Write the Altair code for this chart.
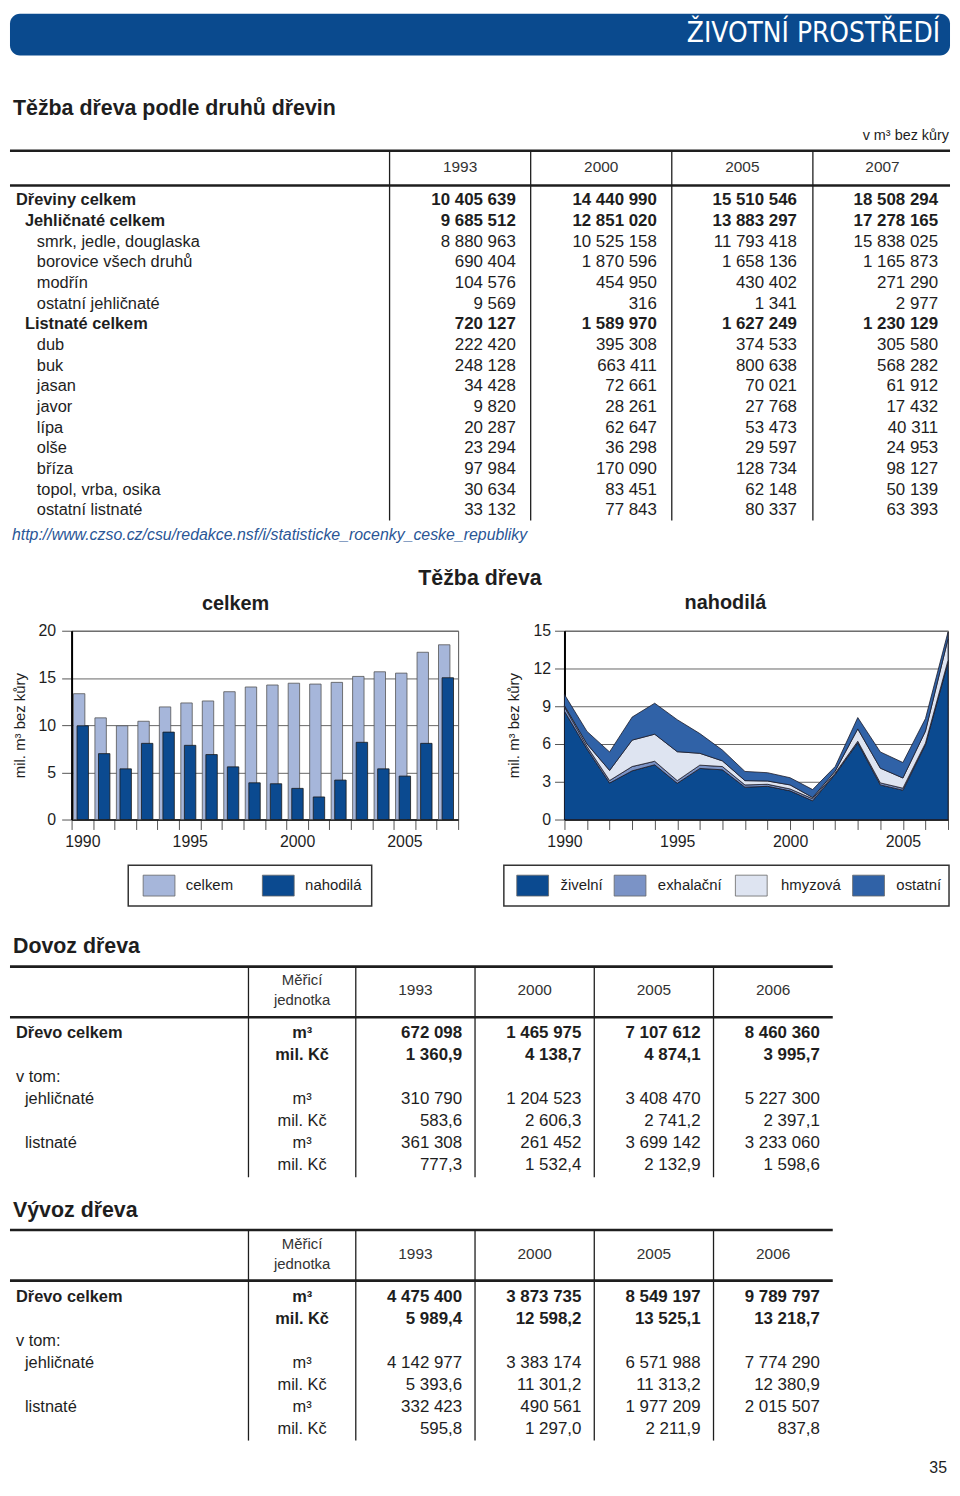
import altair as alt
import pandas as pd

# ---------------------------------------------------------------- data
roky = list(range(1990, 2008))
tezba_celkem = [13.33, 10.77, 9.93, 10.41, 11.93, 12.35, 12.56, 13.54, 14.04, 14.25,
                14.44, 14.35, 14.53, 15.16, 15.65, 15.51, 17.72, 18.51]
tezba_nahodila = [9.93, 6.98, 5.37, 8.07, 9.26, 7.86, 6.88, 5.58, 3.89, 3.79,
                  3.30, 2.39, 4.18, 8.18, 5.37, 4.60, 8.07, 15.02]
zivelni = [8.60, 5.60, 2.90, 3.87, 4.35, 2.88, 4.06, 3.95, 2.57, 2.64,
           2.28, 1.49, 3.59, 6.10, 2.75, 2.33, 5.95, 12.50]
exhalacni = [0.35, 0.20, 0.20, 0.34, 0.28, 0.21, 0.26, 0.26, 0.18, 0.16,
             0.15, 0.16, 0.10, 0.12, 0.16, 0.16, 0.12, 0.15]
hmyzova = [0.10, 0.20, 0.80, 2.10, 2.15, 2.30, 0.94, 0.45, 0.34, 0.26,
           0.32, 0.10, 0.16, 0.98, 1.17, 0.81, 0.95, 1.70]
ostatni = [0.88, 1.00, 1.47, 1.83, 2.46, 2.54, 1.57, 0.86, 0.73, 0.66,
           0.57, 0.63, 0.36, 0.90, 1.29, 1.23, 1.00, 0.55]
druhy_kalamit = ["živelní", "exhalační", "hmyzová", "ostatní"]
serie_tezby = ["celkem", "nahodilá"]

t1_roky = ["1993", "2000", "2005", "2007"]
t1_dreviny = ["Dřeviny celkem", "Jehličnaté celkem", "smrk, jedle, douglaska",
              "borovice všech druhů", "modřín", "ostatní jehličnaté", "Listnaté celkem",
              "dub", "buk", "jasan", "javor", "lípa", "olše", "bříza",
              "topol, vrba, osika", "ostatní listnaté"]
t1_uroven = [0, 1, 2, 2, 2, 2, 1, 2, 2, 2, 2, 2, 2, 2, 2, 2]
t1_tucne = [True, True, False, False, False, False, True] + [False] * 9
t1_1993 = [10405639, 9685512, 8880963, 690404, 104576, 9569, 720127, 222420, 248128,
           34428, 9820, 20287, 23294, 97984, 30634, 33132]
t1_2000 = [14440990, 12851020, 10525158, 1870596, 454950, 316, 1589970, 395308, 663411,
           72661, 28261, 62647, 36298, 170090, 83451, 77843]
t1_2005 = [15510546, 13883297, 11793418, 1658136, 430402, 1341, 1627249, 374533, 800638,
           70021, 27768, 53473, 29597, 128734, 62148, 80337]
t1_2007 = [18508294, 17278165, 15838025, 1165873, 271290, 2977, 1230129, 305580, 568282,
           61912, 17432, 40311, 24953, 98127, 50139, 63393]

t2_roky = ["1993", "2000", "2005", "2006"]
dovoz_celkem_m3 = [672098, 1465975, 7107612, 8460360]
dovoz_celkem_kc = [1360.9, 4138.7, 4874.1, 3995.7]
dovoz_jehl_m3 = [310790, 1204523, 3408470, 5227300]
dovoz_jehl_kc = [583.6, 2606.3, 2741.2, 2397.1]
dovoz_list_m3 = [361308, 261452, 3699142, 3233060]
dovoz_list_kc = [777.3, 1532.4, 2132.9, 1598.6]

vyvoz_celkem_m3 = [4475400, 3873735, 8549197, 9789797]
vyvoz_celkem_kc = [5989.4, 12598.2, 13525.1, 13218.7]
vyvoz_jehl_m3 = [4142977, 3383174, 6571988, 7774290]
vyvoz_jehl_kc = [5393.6, 11301.2, 11313.2, 12380.9]
vyvoz_list_m3 = [332423, 490561, 1977209, 2015507]
vyvoz_list_kc = [595.8, 1297.0, 2211.9, 837.8]

# ---------------------------------------------------------------- style
FONT = "Liberation Sans, Arial, Helvetica, sans-serif"
NARROW = "Liberation Sans Narrow, Arial Narrow, DejaVu Sans Condensed, sans-serif"
INK = "#1e1e1e"
HDR_BLUE = "#0a4a8e"
URL_BLUE = "#2a5696"
C_CELKEM = "#a6b6da"
C_NAHOD = "#0b4a90"
C_ZIV = "#0b4a90"
C_EXH = "#7b93c6"
C_HMY = "#dee4f1"
C_OST = "#3062a7"
KAL_COLORS = [C_ZIV, C_EXH, C_HMY, C_OST]
TEZ_COLORS = [C_CELKEM, C_NAHOD]

LEFT = 8
W = 946
RIGHT = LEFT + W
A_TOP, A_H = 8, 611
B_H = 190
C_TOP, C_H = 847, 630


def fint(v):
    return f"{v:,}".replace(",", " ")


def fdec(v):
    return f"{v:,.1f}".replace(",", " ").replace(".", ",")


def scales(top, h):
    xs = alt.Scale(domain=[LEFT, LEFT + W], nice=False, zero=False)
    ys = alt.Scale(domain=[top, top + h], nice=False, zero=False, reverse=True)
    return xs, ys


def text_layers(items, xs, ys):
    df = pd.DataFrame(items)
    keys = ["size", "weight", "align", "color", "font", "style"]
    out = []
    for k, g in df.groupby(keys):
        size, weight, align, color, font, style = k
        out.append(
            alt.Chart(g[["x", "y", "t"]]).mark_text(
                align=align, baseline="middle", fontSize=size, fontWeight=weight,
                color=color, font=font, fontStyle=style
            ).encode(
                x=alt.X("x:Q", scale=xs, axis=None),
                y=alt.Y("y:Q", scale=ys, axis=None),
                text="t:N",
            )
        )
    return out


def T(x, y, t, size=16.5, weight="normal", align="left", color=INK, font=FONT, style="normal"):
    return dict(x=x, y=y, t=t, size=size, weight=weight, align=align, color=color,
                font=font, style=style)


def rule_layer(rows, xs, ys, width, color=INK):
    df = pd.DataFrame(rows, columns=["x", "x2", "y", "y2"])
    return alt.Chart(df).mark_rule(strokeWidth=width, color=color).encode(
        x=alt.X("x:Q", scale=xs, axis=None), x2="x2:Q",
        y=alt.Y("y:Q", scale=ys, axis=None), y2="y2:Q")


def rect_layer(rows, xs, ys, stroke, sw, radius=0):
    df = pd.DataFrame(rows, columns=["x", "x2", "y", "y2", "c"])
    return alt.Chart(df).mark_rect(stroke=stroke, strokeWidth=sw, cornerRadius=radius).encode(
        x=alt.X("x:Q", scale=xs, axis=None), x2="x2:Q",
        y=alt.Y("y:Q", scale=ys, axis=None), y2="y2:Q",
        fill=alt.Fill("c:N", scale=None))


# ---------------------------------------------------------------- section A
xa, ya = scales(A_TOP, A_H)
items = []
items.append(T(944, 29, "ŽIVOTNÍ PROSTŘEDÍ", size=28, color="white", align="right", font=NARROW))
items.append(T(11, 104, "Těžba dřeva podle druhů dřevin", size=21.5, weight="bold"))
items.append(T(953, 131, "v m³ bez kůry", size=14.5, align="right"))
T1_COLC = [461, 603, 745, 886]
T1_COLR = [517, 659, 800, 942]
for cx, r in zip(T1_COLC, t1_roky):
    items.append(T(cx, 162, r, size=15.5, align="center", color="#333333"))
LEVEL_X = [14, 23, 35]
for i, name in enumerate(t1_dreviny):
    y = 196 + i * 20.8
    w = "bold" if t1_tucne[i] else "normal"
    items.append(T(LEVEL_X[t1_uroven[i]], y, name, weight=w))
    for j, col in enumerate([t1_1993, t1_2000, t1_2005, t1_2007]):
        items.append(T(T1_COLR[j], y, fint(col[i]), size=17, weight=w, align="right"))
items.append(T(10, 533, "http://www.czso.cz/csu/redakce.nsf/i/statisticke_rocenky_ceske_republiky",
               size=16, style="italic", color=URL_BLUE))
items.append(T(481, 577, "Těžba dřeva", size=21.5, weight="bold", align="center"))
items.append(T(235, 602, "celkem", size=20, weight="bold", align="center"))
items.append(T(728, 601, "nahodilá", size=20, weight="bold", align="center"))

sec_a_layers = [
    rect_layer([[8, RIGHT, 8, 50, HDR_BLUE]], xa, ya, HDR_BLUE, 0, radius=10),
    rule_layer([[8, RIGHT, 146, 146], [8, RIGHT, 181, 181]], xa, ya, 2.6),
    rule_layer([[x, x, 146, 518] for x in [390, 532, 674, 816]], xa, ya, 1.3),
] + text_layers(items, xa, ya)
section_a = alt.layer(*sec_a_layers).properties(width=W, height=A_H)

# ---------------------------------------------------------------- section B (charts)
AX_COMMON = dict(labelFont=FONT, labelFontSize=16, labelColor=INK, titleFont=FONT,
                 titleFontSize=15, titleFontWeight="normal", titleColor=INK,
                 tickColor="#555555", tickWidth=1, tickSize=10)

bars_long = pd.DataFrame({
    "rok": roky * 2,
    "hodnota": tezba_celkem + tezba_nahodila,
    "serie": [serie_tezby[0]] * len(roky) + [serie_tezby[1]] * len(roky),
})
x_bar = alt.X("rok:O", scale=alt.Scale(paddingInner=0, paddingOuter=0),
              axis=alt.Axis(title=None, tickBand="extent", labelAngle=0, labelOverlap=False,
                            labelExpr="datum.value % 5 == 0 ? datum.value : ''",
                            labelPadding=4, domainColor="#111111", domainWidth=1.5,
                            grid=False, **AX_COMMON))
y_bar = alt.Y("hodnota:Q", scale=alt.Scale(domain=[0, 20], nice=False),
              axis=alt.Axis(values=[0, 5, 10, 15, 20], title="mil. m³ bez kůry",
                            titleX=-52, titleY=95, titleAngle=270, titleAlign="center",
                            titleBaseline="middle", labelPadding=6, domainColor="#000000",
                            domainWidth=2, grid=True, gridColor="#666666", gridWidth=1,
                            **AX_COMMON))
bar_base = alt.Chart(bars_long)
light = bar_base.transform_filter(f"datum.serie == '{serie_tezby[0]}'").mark_bar(
    width=11.5, xOffset=-3.2, fill=C_CELKEM, stroke="#555555", strokeWidth=0.8
).encode(x=x_bar, y=y_bar)
dark = bar_base.transform_filter(f"datum.serie == '{serie_tezby[1]}'").mark_bar(
    width=11.5, xOffset=0.4, fill=C_NAHOD, stroke="#1a1a1a", strokeWidth=0.8
).encode(x=x_bar, y=y_bar)
left_chart = alt.layer(light, dark).properties(
    width=389, height=B_H, view=alt.ViewBackground(stroke="#555555", strokeWidth=1))

area_long = pd.DataFrame({
    "rok": roky * 4,
    "hodnota": zivelni + exhalacni + hmyzova + ostatni,
    "druh": sum([[d] * len(roky) for d in druhy_kalamit], []),
    "poradi": sum([[i] * len(roky) for i in range(4)], []),
})
right_chart = alt.Chart(area_long).mark_area(stroke="#1c1c2a", strokeWidth=0.8).encode(
    x=alt.X("rok:Q", scale=alt.Scale(domain=[1990, 2007], nice=False, zero=False),
            axis=alt.Axis(title=None, values=roky, format="d", labelFlush=False,
                          labelOverlap=False,
                          labelExpr="datum.value % 5 == 0 ? datum.label : ''",
                          labelPadding=4, domainColor="#111111", domainWidth=1.5,
                          grid=False, **AX_COMMON)),
    y=alt.Y("hodnota:Q", stack="zero", scale=alt.Scale(domain=[0, 15], nice=False),
            axis=alt.Axis(values=[0, 3, 6, 9, 12, 15], title="mil. m³ bez kůry",
                          titleX=-51, titleY=95, titleAngle=270, titleAlign="center",
                          titleBaseline="middle", labelPadding=4, domainColor="#000000",
                          domainWidth=2, grid=True, gridColor="#666666", gridWidth=1,
                          **AX_COMMON)),
    color=alt.Color("druh:N", scale=alt.Scale(domain=druhy_kalamit, range=KAL_COLORS),
                    legend=None),
    order=alt.Order("poradi:Q", sort="ascending"),
).properties(width=386, height=B_H,
             view=alt.ViewBackground(stroke="#555555", strokeWidth=1))


def spacer(w):
    return alt.Chart(pd.DataFrame({"v": [0]})).mark_point(size=0, opacity=0).encode(
        x=alt.value(1), y=alt.value(1)).properties(width=w, height=B_H)


section_b = alt.hconcat(spacer(62), left_chart, spacer(107), right_chart,
                        spacing=0, bounds="flush")

# ---------------------------------------------------------------- section C
xc, yc = scales(C_TOP, C_H)
citems = []
rects = [[127, 372, 861, 902, "white"], [505, RIGHT - 1, 861, 902, "white"]]
swatches = []
leg_left = [(142, 185), (262, 305)]
for (sx, tx), name, col in zip(leg_left, serie_tezby, TEZ_COLORS):
    swatches.append([sx, sx + 32, 871, 892, col])
    citems.append(T(tx, 881, name, size=15))
leg_right = [(518, 562), (616, 660), (738, 784), (856, 900)]
for (sx, tx), name, col in zip(leg_right, druhy_kalamit, KAL_COLORS):
    swatches.append([sx, sx + 32, 871, 892, col])
    citems.append(T(tx, 881, name, size=15))

T2_COLC = [416, 536, 656, 776]
T2_COLR = [463, 583, 703, 823]
LV = [14, 23]


def trade_table(title, title_y, top, hdr, bottom, row0, rowh, rows, years_y, m1, m2):
    its = [T(11, title_y, title, size=21.5, weight="bold")]
    its.append(T(302, m1, "Měřicí", size=15, align="center", color="#333333"))
    its.append(T(302, m2, "jednotka", size=15, align="center", color="#333333"))
    for cx, r in zip(T2_COLC, t2_roky):
        its.append(T(cx, years_y, r, size=15.5, align="center", color="#333333"))
    for i, (lab, lev, unit, vals, fmt, bold) in enumerate(rows):
        y = row0 + i * rowh
        w = "bold" if bold else "normal"
        if lab:
            its.append(T(LV[lev], y, lab, weight=w))
        if unit:
            its.append(T(302, y, unit, weight=w, align="center"))
        if vals:
            for j, v in enumerate(vals):
                its.append(T(T2_COLR[j], y, fmt(v), size=17, weight=w, align="right"))
    rl = [
        rule_layer([[8, 836, top, top], [8, 836, hdr, hdr]], xc, yc, 2.6),
        rule_layer([[x, x, top, bottom] for x in [248, 356, 476, 596, 716]], xc, yc, 1.3),
    ]
    return its, rl


dovoz_rows = [
    ("Dřevo celkem", 0, "m³", dovoz_celkem_m3, fint, True),
    ("", 0, "mil. Kč", dovoz_celkem_kc, fdec, True),
    ("v tom:", 0, "", None, fint, False),
    ("jehličnaté", 1, "m³", dovoz_jehl_m3, fint, False),
    ("", 1, "mil. Kč", dovoz_jehl_kc, fdec, False),
    ("listnaté", 1, "m³", dovoz_list_m3, fint, False),
    ("", 1, "mil. Kč", dovoz_list_kc, fdec, False),
]
vyvoz_rows = [
    ("Dřevo celkem", 0, "m³", vyvoz_celkem_m3, fint, True),
    ("", 0, "mil. Kč", vyvoz_celkem_kc, fdec, True),
    ("v tom:", 0, "", None, fint, False),
    ("jehličnaté", 1, "m³", vyvoz_jehl_m3, fint, False),
    ("", 1, "mil. Kč", vyvoz_jehl_kc, fdec, False),
    ("listnaté", 1, "m³", vyvoz_list_m3, fint, False),
    ("", 1, "mil. Kč", vyvoz_list_kc, fdec, False),
]
i2, r2 = trade_table("Dovoz dřeva", 943, 963, 1014, 1175, 1030, 22.17, dovoz_rows, 987, 977, 997)
i3, r3 = trade_table("Vývoz dřeva", 1209, 1228, 1279, 1440, 1296, 22.0, vyvoz_rows, 1252, 1242, 1262)
citems += i2 + i3
citems.append(T(951, 1468, "35", size=16, align="right"))

sec_c_layers = [
    rect_layer(rects, xc, yc, "#333333", 1.5),
    rect_layer(swatches, xc, yc, "#666666", 0.8),
] + r2 + r3 + text_layers(citems, xc, yc)
section_c = alt.layer(*sec_c_layers).properties(width=W, height=C_H)

# ---------------------------------------------------------------- page
chart = alt.vconcat(section_a, section_b, section_c, spacing=0).properties(
    padding=0
).configure(font=FONT, view=alt.ViewConfig(stroke="transparent"))

chart.save("out.html", embed_options={"renderer": "svg", "actions": False})
